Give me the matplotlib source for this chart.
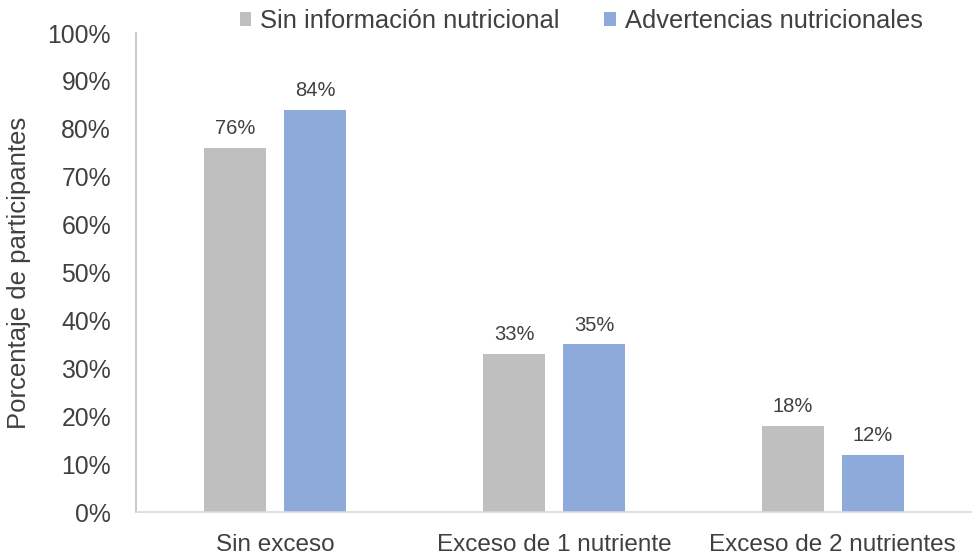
import matplotlib
matplotlib.use("Agg")
import matplotlib.pyplot as plt
import numpy as np

categories = ["Sin exceso", "Exceso de 1 nutriente", "Exceso de 2 nutrientes"]
series_names = ["Sin información nutricional", "Advertencias nutricionales"]
sin_info = [76, 33, 18]
advertencias = [84, 35, 12]
ytick_vals = [0, 10, 20, 30, 40, 50, 60, 70, 80, 90, 100]

plt.rcParams['font.family'] = ['Liberation Sans', 'DejaVu Sans']
txt = '#404040'
colors = ['#BFBFBF', '#8EAADB']

fig = plt.figure(figsize=(9.72, 5.56), dpi=100)
ax = fig.add_axes([0.140, 0.0791, 0.860, 0.8615])

x = np.arange(len(categories))
w = 0.2225
off = 0.1435
series = [sin_info, advertencias]
for i, (vals, name, c) in enumerate(zip(series, series_names, colors)):
    pos = x + (-off if i == 0 else off)
    bars = ax.bar(pos, vals, width=w, color=c, label=name, zorder=2)
    for b, v in zip(bars, vals):
        ax.annotate(f"{v}%", (b.get_x() + b.get_width() / 2, v),
                    xytext=(0, 7), textcoords='offset points',
                    ha='center', va='bottom', fontsize=14.5, color=txt)

ax.set_xlim(-0.5, 2.5)
ax.set_ylim(0, 100)
ax.set_yticks(ytick_vals)
ax.set_yticklabels([f"{v}%" for v in ytick_vals])
ax.set_xticks(x)
ax.set_xticklabels(categories)
ax.tick_params(axis='y', length=0, labelsize=17.8, colors=txt, pad=18)
ax.tick_params(axis='x', length=0, labelsize=17.5, colors=txt, pad=16)
ax.set_ylabel("Porcentaje de participantes", fontsize=18.5, color=txt, labelpad=12)

for s in ['top', 'right']:
    ax.spines[s].set_visible(False)
ax.spines['left'].set_color('#BFBFBF')
ax.spines['bottom'].set_color('#D9D9D9')
ax.spines['left'].set_linewidth(1.2)
ax.spines['bottom'].set_linewidth(1.2)

leg = fig.legend(loc='center', bbox_to_anchor=(0.598, 0.962), ncol=2, frameon=False,
                 fontsize=18.4, handlelength=0.45, handleheight=0.45, handletextpad=0.35,
                 columnspacing=1.75)
for t in leg.get_texts():
    t.set_color(txt)

fig.savefig("out.png", dpi=100)
